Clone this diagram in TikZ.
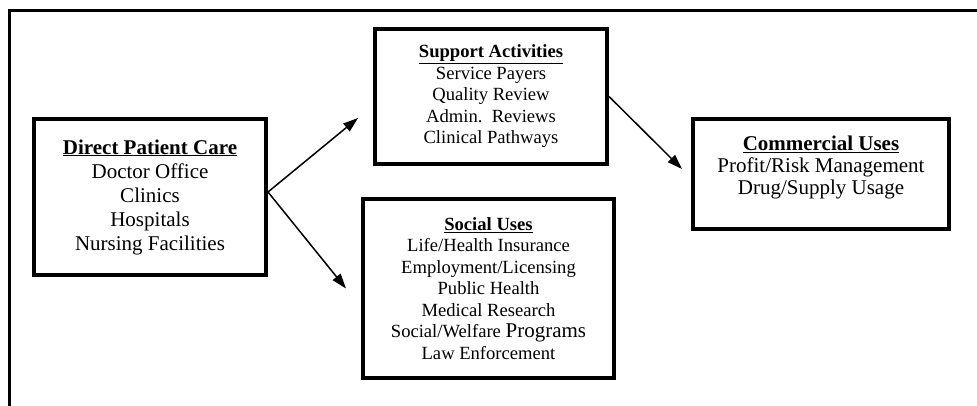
\documentclass[tikz,border=0pt]{standalone}
\usepackage{fontspec}
\setmainfont{Liberation Serif}
\usetikzlibrary{arrows.meta}

\begin{document}
\begin{tikzpicture}[x=1pt,y=-1pt,
    usebox/.style={draw, line width=4pt, align=center, inner sep=0pt},
    flow/.style={line width=1.5pt, -{Triangle[length=15pt,width=10pt]}}]
    \useasboundingbox (0,0) rectangle (977,406);
    \clip (0,0) rectangle (977,406); % frame runs off the page

    % outer frame
    \draw[line width=3pt] (9.5,11) rectangle (1000,430);

    % the four boxes
    \node[usebox, minimum width=232pt, minimum height=156pt,
          font=\fontsize{21}{24}\selectfont] (DirectCare) at (150,197)
        {\textbf{\underline{Direct Patient Care}}\\ Doctor Office\\ Clinics\\
         Hospitals\\ Nursing Facilities};
    \node[usebox, minimum width=232pt, minimum height=135pt,
          font=\fontsize{18.6}{21.5}\selectfont] (Support) at (491,96.5)
        {\textbf{\underline{Support Activities}}\\ Service Payers\\
         Quality Review\\ Admin.\ \ Reviews\\ Clinical Pathways};
    \node[usebox, minimum width=251pt, minimum height=179pt,
          font=\fontsize{18.6}{21.5}\selectfont] (Social) at (488.5,288.5)
        {\textbf{\underline{Social Uses}}\\ Life/Health Insurance\\
         Employment/Licensing\\ Public Health\\ Medical Research\\
         Social/Welfare {\fontsize{21}{21.5}\selectfont Programs}\\
         Law Enforcement};
    \node[usebox, minimum width=256pt, minimum height=110pt,
          font=\fontsize{21}{22}\selectfont] (Commercial) at (821,174)
        {\textbf{\underline{Commercial Uses}}\\ Profit/Risk Management\\
         Drug/Supply Usage\rule[-17pt]{0pt}{0pt}};

    % connectors
    \draw[flow] ([yshift=5pt]DirectCare.east)
        -- ([xshift=-15pt,yshift=-21.5pt]Support.west);
    \draw[flow] ([yshift=5pt]DirectCare.east)
        -- ([xshift=-15pt]Social.west);
    \draw[flow] (Support.east)
        -- ([xshift=-9pt,yshift=5pt]Commercial.west);
\end{tikzpicture}
\end{document}
